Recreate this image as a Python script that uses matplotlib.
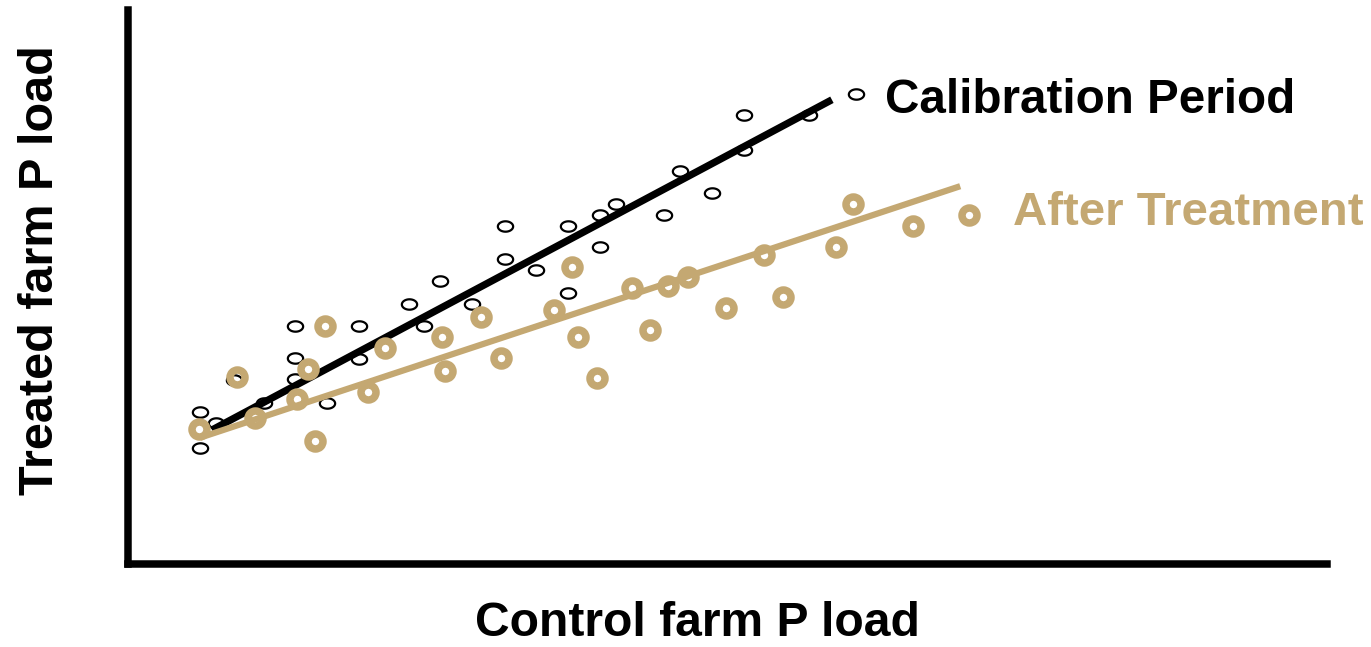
import numpy as np
import matplotlib
matplotlib.use("Agg")
import matplotlib.pyplot as plt
from matplotlib.path import Path

plt.rcParams["font.family"] = ["Liberation Sans", "DejaVu Sans"]

TAN = "#C4A872"

# calibration period (control load, treated load)
calib_x = [6.0, 6.0, 7.3, 8.8, 11.3, 13.9, 13.9, 13.9, 16.6, 19.3, 19.3, 23.4, 24.7, 26.0, 28.7,
           31.4, 31.4, 34.0, 36.7, 36.7, 39.4, 39.4, 40.7, 44.7, 46.0, 48.7, 51.4, 51.4, 56.8, 60.7]
calib_y = [13.7, 10.5, 12.7, 16.6, 14.5, 21.5, 18.6, 16.7, 14.5, 21.5, 18.5, 23.5, 21.5, 25.5, 23.5,
           30.5, 27.5, 26.5, 30.5, 24.5, 31.5, 28.6, 32.5, 31.5, 35.5, 33.5, 40.5, 37.4, 40.5, 42.4]
calib_fit_x = [7.0, 58.7]
calib_fit_y = [12.1, 41.9]

# after treatment
treat_x = [5.9, 9.1, 10.6, 14.1, 15.0, 15.6, 16.4, 20.0, 21.4, 26.2, 26.4, 29.4, 31.1, 35.5,
           37.0, 37.5, 39.1, 42.0, 43.5, 45.0, 46.7, 49.9, 53.0, 54.6, 59.0, 60.5, 65.5, 70.1]
treat_y = [12.2, 16.9, 13.2, 14.9, 17.6, 11.1, 21.5, 15.5, 19.5, 20.5, 17.4, 22.3, 18.6, 22.9,
           26.8, 20.5, 16.8, 24.9, 21.1, 25.1, 25.9, 23.1, 27.9, 24.1, 28.6, 32.5, 30.5, 31.5]
treat_fit_x = [6.0, 69.4]
treat_fit_y = [11.4, 34.1]

# flat ellipse marker for the calibration points
t = np.linspace(0, 2 * np.pi, 60)
ellipse = Path(np.column_stack([np.cos(t), 0.68 * np.sin(t)]), closed=True)

fig = plt.figure(figsize=(13.71, 6.47), dpi=100)
ax = fig.add_axes([0.0934, 0.1283, 0.8746, 0.8562])

ax.plot(calib_x, calib_y, linestyle="none", marker=ellipse, markersize=11,
        markerfacecolor="none", markeredgecolor="black", markeredgewidth=1.6, zorder=2)
ax.plot(calib_fit_x, calib_fit_y, color="black", linewidth=5.2, solid_capstyle="butt", zorder=3)
ax.plot(treat_fit_x, treat_fit_y, color=TAN, linewidth=4.5, solid_capstyle="butt", zorder=4)
ax.plot(treat_x, treat_y, linestyle="none", marker="o", markersize=10.8,
        markerfacecolor="none", markeredgecolor=TAN, markeredgewidth=5.4, zorder=5)

ax.text(63.1, 40.7, "Calibration Period", fontsize=34.3, fontweight="bold", color="black",
        va="baseline", ha="left")
ax.text(73.8, 30.6, "After Treatment", fontsize=34.1, fontweight="bold", color=TAN,
        va="baseline", ha="left")

ax.set_xlim(0, 100)
ax.set_ylim(0, 50)
for side in ["top", "right"]:
    ax.spines[side].set_visible(False)
for side in ["left", "bottom"]:
    ax.spines[side].set_linewidth(5.4)
ax.set_xticks([])
ax.set_yticks([])

fig.text(697 / 1371, 0.002, "Control farm P load", fontsize=34.6, fontweight="bold",
         ha="center", va="bottom")
fig.text(40.5 / 1371, 0.583, "Treated farm P load", fontsize=35, fontweight="bold",
         ha="center", va="center", rotation=90)

fig.savefig("out.png", dpi=100)
